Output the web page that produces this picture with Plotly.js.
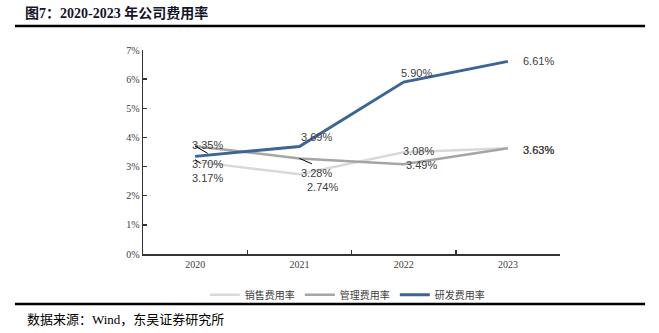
<!DOCTYPE html>
<html>
<head>
<meta charset="utf-8">
<script src="https://cdn.plot.ly/plotly-3.0.1.min.js"></script>
<style>html,body{margin:0;padding:0;background:#fff;}#chart{width:659px;height:333px;}</style>
</head>
<body>
<div id="chart"></div>
<script>
const years = ['2020', '2021', '2022', '2023'];
const salesRate = [0.0317, 0.0274, 0.0349, 0.0363];   // 销售费用率
const mgmtRate  = [0.0370, 0.0328, 0.0308, 0.0363];   // 管理费用率
const rdRate    = [0.0335, 0.0369, 0.0590, 0.0661];   // 研发费用率
const seriesNames = ['销售费用率', '管理费用率', '研发费用率'];
const yTicks = [0, 0.01, 0.02, 0.03, 0.04, 0.05, 0.06, 0.07];
const yTickText = ['0%', '1%', '2%', '3%', '4%', '5%', '6%', '7%'];

const colors = ['#D9D9D9', '#A5A5A5', '#3C6497'];
const widths = [2.5, 2.5, 3];
const series = [salesRate, mgmtRate, rdRate];

const traces = series.map((vals, i) => ({
  type: 'scatter', mode: 'lines', x: years, y: vals, name: seriesNames[i],
  line: {color: colors[i], width: widths[i]}, hoverinfo: 'skip'
}));

// label offsets (ax, ay) in pixels per series per year
const offsets = [
  [[12, 16], [23, 13], [18, 13], [31, 2]],
  [[12, 18], [17, 15], [15, -13], [31, 2]],
  [[12, -11], [17, -9], [13, -9], [31, 0]]
];
const pct = v => (v * 100).toFixed(2) + '%';
const annotations = [];
series.forEach((vals, i) => {
  vals.forEach((v, j) => {
    annotations.push({
      x: j, y: v, xref: 'x', yref: 'y', text: pct(v), showarrow: true,
      arrowcolor: 'rgba(0,0,0,0)', arrowwidth: 0.1, ax: offsets[i][j][0], ay: offsets[i][j][1],
      font: {family: 'Liberation Sans, Arial, sans-serif', size: 11, color: '#404040'}
    });
  });
});
// leader lines
const leaders = [
  {x: 0, y: mgmtRate[0], ax: 14, ay: 8},
  {x: 0, y: 0.0324, ax: 7, ay: 5},
  {x: 1, y: mgmtRate[1], ax: 14, ay: 6}
];
leaders.forEach(l => annotations.push({
  x: l.x, y: l.y, xref: 'x', yref: 'y', text: '', showarrow: true, arrowhead: 0,
  arrowwidth: 1, arrowcolor: '#000', ax: l.ax, ay: l.ay, standoff: 0
}));
// footer source
annotations.push({
  xref: 'paper', yref: 'paper', x: -0.283, y: -0.3235, xanchor: 'left', yanchor: 'middle',
  text: '数据来源：Wind，东吴证券研究所', showarrow: false,
  font: {family: 'Liberation Serif, Noto Sans CJK SC, serif', size: 13, color: '#000'}
});

const layout = {
  width: 659, height: 333,
  margin: {l: 143, r: 99, t: 50, b: 79, pad: 0},
  paper_bgcolor: '#fff', plot_bgcolor: '#fff',
  title: {
    text: '<b>图7：2020-2023 年公司费用率</b>', xref: 'container', yref: 'container',
    x: 25 / 659, xanchor: 'left', y: 1 - 13 / 333, yanchor: 'middle',
    font: {family: 'Liberation Serif, Noto Sans CJK SC, serif', size: 14, color: '#14142b'}
  },
  showlegend: true,
  legend: {
    orientation: 'h', x: 0.49, xanchor: 'center', y: -0.2, yanchor: 'middle',
    font: {family: 'Noto Sans CJK SC, sans-serif', size: 10, color: '#404040'},
    itemwidth: 30, tracegroupgap: 0, bgcolor: 'rgba(0,0,0,0)'
  },
  xaxis: {
    type: 'category', range: [-0.5, 3.5], fixedrange: true,
    showline: true, linecolor: '#333', linewidth: 1.5, showgrid: false, zeroline: false,
    ticks: 'inside', tickson: 'boundaries', ticklen: 4, tickcolor: '#333', tickwidth: 1.5,
    tickfont: {family: 'Liberation Serif, Times New Roman, serif', size: 10, color: '#404040'}
  },
  yaxis: {
    range: [0, 0.07], tickvals: yTicks, ticktext: yTickText, fixedrange: true,
    showline: true, linecolor: '#333', linewidth: 1.5, showgrid: false, zeroline: false,
    ticks: 'inside', ticklen: 4, tickcolor: '#333', tickwidth: 1.5,
    tickfont: {family: 'Liberation Serif, Times New Roman, serif', size: 10, color: '#404040'}
  },
  shapes: [
    {type: 'line', xref: 'paper', yref: 'paper', x0: -0.307, x1: 1.204, y0: 1.1176, y1: 1.1176,
     line: {color: '#000', width: 2.5}},
    {type: 'line', xref: 'paper', yref: 'paper', x0: -0.307, x1: 1.204, y0: -0.245, y1: -0.245,
     line: {color: '#000', width: 2.5}}
  ],
  annotations: annotations
};

Plotly.newPlot('chart', traces, layout, {displayModeBar: false, staticPlot: true});
</script>
</body>
</html>
